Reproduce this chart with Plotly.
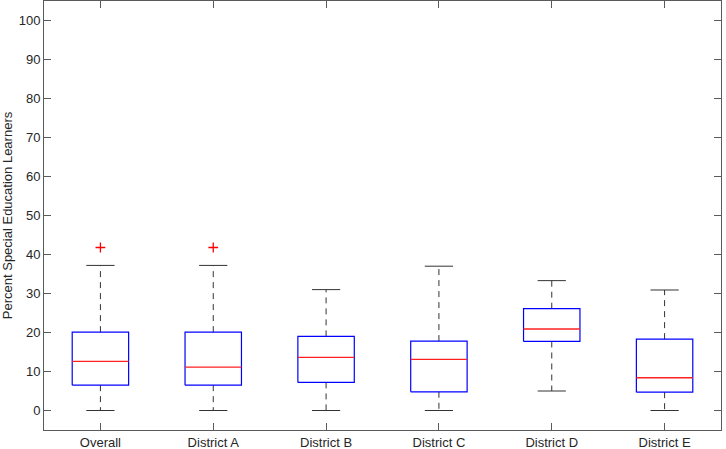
import plotly.graph_objects as go

categories = ["Overall", "District A", "District B", "District C", "District D", "District E"]
lower_whisker = [0.0, 0.0, 0.0, 0.0, 5.0, 0.0]
q1 = [6.5, 6.5, 7.2, 4.8, 17.7, 4.7]
median = [12.6, 11.1, 13.6, 13.1, 20.9, 8.4]
q3 = [20.1, 20.1, 19.0, 17.8, 26.1, 18.3]
upper_whisker = [37.2, 37.2, 31.0, 37.0, 33.3, 30.9]
outliers = [[41.8], [41.8], [], [], [], []]
y_ticks = list(range(0, 101, 10))

BOX_HALF = 0.25
CAP_HALF = 0.125

pos = list(range(1, len(categories) + 1))

wx, wy, cx, cy, bx, by, mx, my, ox, oy = [], [], [], [], [], [], [], [], [], []
for p, lo, a, m, b, hi, outs in zip(pos, lower_whisker, q1, median, q3, upper_whisker, outliers):
    wx += [p, p, None, p, p, None]
    wy += [b, hi, None, a, lo, None]
    cx += [p - CAP_HALF, p + CAP_HALF, None, p - CAP_HALF, p + CAP_HALF, None]
    cy += [hi, hi, None, lo, lo, None]
    bx += [p - BOX_HALF, p + BOX_HALF, p + BOX_HALF, p - BOX_HALF, p - BOX_HALF, None]
    by += [a, a, b, b, a, None]
    mx += [p - BOX_HALF, p + BOX_HALF, None]
    my += [m, m, None]
    for o in outs:
        ox.append(p)
        oy.append(o)

fig = go.Figure()
fig.add_trace(go.Scatter(x=wx, y=wy, mode="lines", line=dict(color="#333333", width=1, dash="6px,5px"),
                         hoverinfo="skip", showlegend=False))
fig.add_trace(go.Scatter(x=cx, y=cy, mode="lines", line=dict(color="#333333", width=1),
                         hoverinfo="skip", showlegend=False))
fig.add_trace(go.Scatter(x=bx, y=by, mode="lines", line=dict(color="#0000ff", width=1.2),
                         hoverinfo="skip", showlegend=False))
fig.add_trace(go.Scatter(x=mx, y=my, mode="lines", line=dict(color="#ff2020", width=1.3),
                         hoverinfo="skip", showlegend=False))
fig.add_trace(go.Scatter(x=ox, y=oy, mode="markers",
                         marker=dict(symbol="cross-thin", size=7, line=dict(color="#ff0000", width=1.3)),
                         hoverinfo="skip", showlegend=False))

FONT = "Liberation Sans, Arial, sans-serif"
axis_common = dict(showline=True, linecolor="#5a5a5a", linewidth=1, mirror="ticks", ticks="inside",
                   ticklen=7, tickcolor="#5a5a5a", showgrid=False, zeroline=False, automargin=False,
                   tickfont=dict(family=FONT, size=13, color="#262626"))

fig.update_layout(
    width=726, height=449,
    margin=dict(l=44, r=5, t=1, b=19),
    paper_bgcolor="white", plot_bgcolor="white",
    xaxis=dict(range=[0.5, len(categories) + 0.5], tickmode="array", tickvals=pos, ticktext=categories,
               **axis_common),
    yaxis=dict(range=[-5, 105], tickmode="array", tickvals=y_ticks,
               title=dict(text="Percent Special Education Learners", standoff=3,
                          font=dict(family=FONT, size=13, color="#262626")),
               **axis_common),
)

fig.write_html("out.html", config={"displayModeBar": False},
               post_script="document.body.style.margin='0';document.body.style.padding='0';document.body.style.overflow='hidden';")
